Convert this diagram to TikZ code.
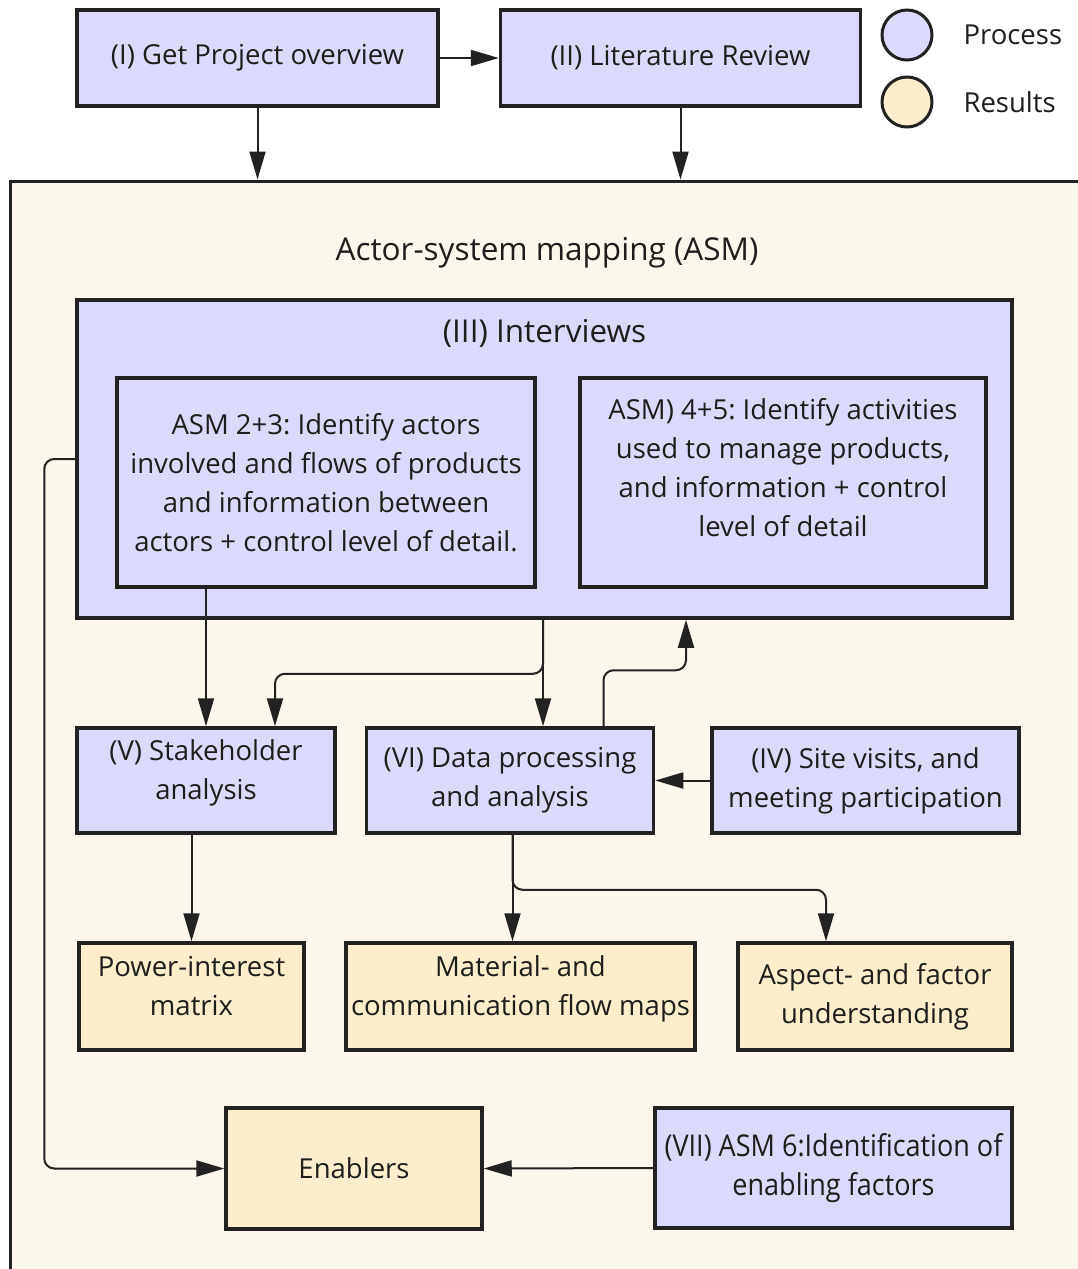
\documentclass[tikz,border=0pt]{standalone}
\usepackage{fontspec}
\setmainfont{Open Sans}
\usepackage{tikz}
\usetikzlibrary{positioning,arrows.meta,calc}

\definecolor{procfill}{HTML}{DCDAFA}
\definecolor{resfill}{HTML}{FCEECC}
\definecolor{bgfill}{HTML}{FBF7EC}
\definecolor{edge}{HTML}{222222}
\definecolor{txt}{HTML}{1E1E1E}
\frenchspacing

\begin{document}
\begin{tikzpicture}[
      x=1pt, y=-1pt,
      font=\fontsize{27.5}{39}\selectfont, text=txt,
      >={Triangle[length=28pt,width=16pt]},
      procbox/.style={draw=edge, line width=3.5pt, fill=procfill, align=center, inner sep=2pt},
      resbox/.style={draw=edge, line width=3.5pt, fill=resfill, align=center, inner sep=2pt},
      legcirc/.style={circle, draw=edge, line width=3pt, minimum size=50pt, inner sep=0pt},
      titletxt/.style={font=\fontsize{31.5}{39}\selectfont},
      conn/.style={->, line width=2pt, draw=edge},
      elbow/.style={conn, rounded corners=10pt}
    ]
    \useasboundingbox[fill=white] (0,0) rectangle (1077,1269);

    % outer frame
    \node[draw=edge, line width=3pt, fill=bgfill, minimum width=1080pt, minimum height=1109pt] (asm) at (550,735.5) {};
    \node[titletxt] (asmtitle) at (547,253) {Actor-system mapping (ASM)};

    % top row and legend
    \node[procbox, minimum width=361pt, minimum height=96pt] (pov) at (257.5,58) {(I) Get Project overview};
    \node[procbox, minimum width=360pt, minimum height=96pt, right=59pt of pov] (lit) {(II) Literature Review};

    \node[legcirc, fill=procfill] (legp) at (907,35) {};
    \node[anchor=west] (legptxt) at (960,35) {Process};
    \node[legcirc, fill=resfill] (legr) at (907,102) {};
    \node[anchor=west] (legrtxt) at (960,102) {Results};

    % interviews
    \node[procbox, minimum width=935pt, minimum height=318pt] (intv) at (544.5,459) {};
    \node[titletxt] (intvtitle) at (544.5,333) {(III) Interviews};
    \node[procbox, minimum width=418pt, minimum height=209pt] (asmA) at (326,482.5)
      {ASM 2+3: Identify actors\\involved and flows of products\\and information between\\actors + control level of detail.};
    \node[procbox, minimum width=406pt, minimum height=209pt] (asmB) at (783,482.5)
      {ASM) 4+5: Identify activities\\used to manage products,\\and information + control\\level of detail\\[-8pt]~};

    % processes
    \node[procbox, minimum width=258pt, minimum height=105pt] (stake) at (206,780.5) {(V) Stakeholder\\analysis\\[-18pt]~};
    \node[procbox, minimum width=287pt, minimum height=105pt, right=28pt of stake] (dproc) {(VI) Data processing\\and analysis};
    \node[procbox, minimum width=307pt, minimum height=105pt, right=55pt of dproc] (site) {(IV) Site visits, and\\meeting participation};

    % results
    \node[resbox, minimum width=225pt, minimum height=107pt] (power) at (191.5,996.5) {Power-interest\\matrix\\[-18pt]~};
    \node[resbox, minimum width=349pt, minimum height=107pt] (mat) at (520.5,996.5) {Material- and\\communication flow maps\\[-18pt]~};
    \node[resbox, minimum width=274pt, minimum height=107pt] (asp) at (875,996.5) {Aspect- and factor\\understanding};

    \node[resbox, minimum width=256pt, minimum height=121pt] (enab) at (354,1168.5) {Enablers};
    \node[procbox, minimum width=357pt, minimum height=120pt, font=\fontsize{30}{39}\selectfont] (vii) at (833.5,1168)
      {\scalebox{0.9}[1]{(VII) ASM 6:Identification of}\\\scalebox{0.9}[1]{enabling factors}};

    % connectors
    \draw[conn] (pov.east) -- (lit.west);
    \draw[conn] (pov.south) -- (pov.south |- asm.north);
    \draw[conn] (lit.south) -- (lit.south |- asm.north);

    \coordinate (split) at ($(intv.south)+(-1.5,54)$);
    \draw[conn] (asmA.south -| stake.north) -- (stake.north);
    \draw[conn] (intv.south -| split) -- (split |- dproc.north);
    \draw[elbow] (intv.south -| split) -- (split) -| ($(stake.north)+(69,0)$);
    \draw[elbow] ($(dproc.north)+(93.5,0)$) -- ++(0,-56) -| ($(intv.south)+(141.5,0)$);
    \draw[conn] (site.west) -- (dproc.east);

    \draw[conn] (stake.south -| power.north) -- (power.north);
    \coordinate (split2) at ($(dproc.south)+(2.5,55)$);
    \draw[conn] (dproc.south -| split2) -- (split2 |- mat.north);
    \draw[elbow] (dproc.south -| split2) -- (split2) -| ($(asp.north)+(-49,0)$);

    \draw[elbow] (intv.west) -- ++(-31,0) |- (enab.west);
    \draw[conn] (vii.west) -- (enab.east);
  \end{tikzpicture}
\end{document}
